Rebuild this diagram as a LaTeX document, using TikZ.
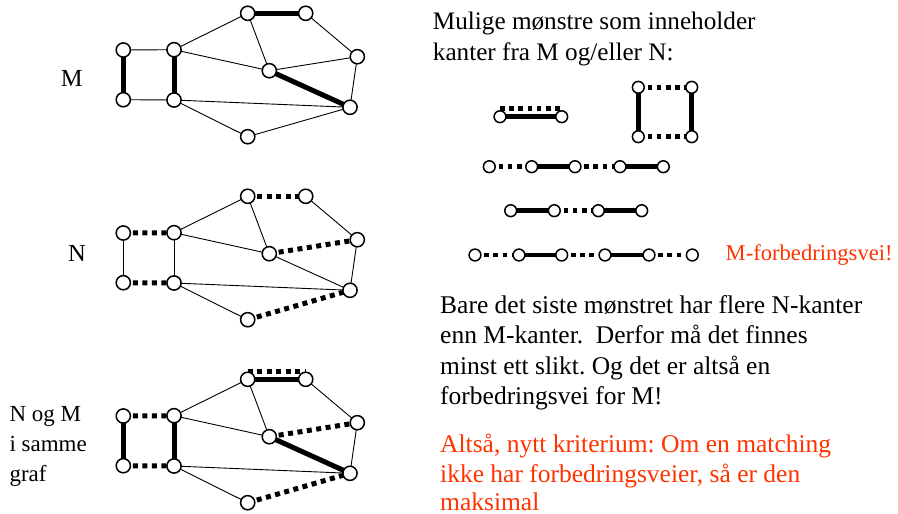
\documentclass[tikz,border=0pt]{standalone}
\usepackage{fontspec}
\setmainfont{Liberation Serif}
\usetikzlibrary{backgrounds}
\definecolor{alertred}{RGB}{255,51,0}

% the ten vertices of the example graph
\newcommand\graphverts{%
  \node[vtx] (a1) at (123.3,50)    {};
  \node[vtx] (a2) at (123.3,99.7)  {};
  \node[vtx] (b1) at (174,49.7)    {};
  \node[vtx] (b2) at (174,100)     {};
  \node[vtx] (c)  at (247.7,13.3)  {};
  \node[vtx] (d)  at (305.7,13.3)  {};
  \node[vtx] (e)  at (269.3,70.7)  {};
  \node[vtx] (f)  at (357.3,56.7)  {};
  \node[vtx] (g)  at (350,107.3)   {};
  \node[vtx] (h)  at (247.7,136.7) {};
}
% edges that belong to neither matching in all three copies
\newcommand\commonedges{%
  \draw[plain] (b1.center) -- (c.center);
  \draw[plain] (b1.center) -- (e.center);
  \draw[plain] (c.center)  -- (e.center);
  \draw[plain] (d.center)  -- (f.center);
  \draw[plain] (f.center)  -- (g.center);
  \draw[plain] (b2.center) -- (g.center);
  \draw[plain] (b2.center) -- (h.center);
}

\begin{document}
\frenchspacing
\begin{tikzpicture}[x=1pt,y=-1pt,
  vtx/.style={circle,draw,fill=white,line width=1.5pt,minimum size=14.2pt,inner sep=0pt},
  pv/.style={circle,draw,fill=white,line width=1.5pt,minimum size=11.8pt,inner sep=0pt},
  plain/.style={line width=0.9pt},
  medge/.style={line width=5pt},
  nedge/.style={line width=5pt,dash pattern=on 5pt off 4.5pt},
  pm/.style={line width=4.6pt},
  pn/.style={line width=4.6pt,dash pattern=on 4.6pt off 4.6pt},
  raised/.style={transform canvas={yshift=8pt}},
  txt/.style={inner sep=0pt,anchor=base west},
  head/.style={txt,font=\fontsize{25.2}{30}\selectfont},
  body/.style={txt,font=\fontsize{25.5}{30}\selectfont},
  side/.style={txt,font=\fontsize{23}{30}\selectfont},
  lbl/.style={inner sep=0pt,font=\fontsize{24.5}{30}\selectfont},
]
\useasboundingbox (0,0) rectangle (898,514);

% ---------- graph with matching M ----------
\begin{scope}[name prefix=m-]
  \graphverts
  \begin{scope}[on background layer]
    \commonedges
    \draw[plain] (a1.center) -- (b1.center);
    \draw[plain] (a2.center) -- (b2.center);
    \draw[plain] (e.center)  -- (f.center);
    \draw[plain] (h.center)  -- (g.center);
    \draw[medge] (a1.center) -- (a2.center);
    \draw[medge] (b1.center) -- (b2.center);
    \draw[medge] (c.center)  -- (d.center);
    \draw[medge] (e.center)  -- (g.center);
  \end{scope}
\end{scope}
\node[lbl] (labM) at (71.8,78.3) {M};

% ---------- graph with matching N ----------
\begin{scope}[name prefix=n-,shift={(0,183)}]
  \graphverts
  \begin{scope}[on background layer]
    \commonedges
    \draw[plain] (a1.center) -- (a2.center);
    \draw[plain] (b1.center) -- (b2.center);
    \draw[plain] (e.center)  -- (g.center);
    \draw[nedge] (a1.center) -- (b1.center);
    \draw[nedge] (a2.center) -- (b2.center);
    \draw[nedge] (c.center)  -- (d.center);
    \draw[nedge] (e.center)  -- (f.center);
    \draw[nedge] (h.center)  -- (g.center);
  \end{scope}
\end{scope}
\node[lbl] (labN) at (77,253.7) {N};

% ---------- both matchings in one graph ----------
\begin{scope}[name prefix=mn-,shift={(0,366)}]
  \graphverts
  \begin{scope}[on background layer]
    \commonedges
    \draw[medge] (a1.center) -- (a2.center);
    \draw[medge] (b1.center) -- (b2.center);
    \draw[medge] (c.center)  -- (d.center);
    \draw[medge] (e.center)  -- (g.center);
    \draw[nedge] (a1.center) -- (b1.center);
    \draw[nedge] (a2.center) -- (b2.center);
    \draw[nedge,raised] (c.center) -- (d.center);
    \draw[nedge] (e.center)  -- (f.center);
    \draw[nedge] (h.center)  -- (g.center);
  \end{scope}
\end{scope}
\node[side] (labNM1) at (9.3,421.7) {N og M};
\node[side] (labNM2) at (9.3,451.5) {i samme};
\node[side] (labNM3) at (9.3,481.5) {graf};

% ---------- possible patterns ----------
\node[head] (head1) at (432.7,29.3) {Mulige mønstre som inneholder};
\node[head] (head2) at (432.7,60)   {kanter fra M og/eller N:};

% one edge in both matchings
\node[pv] (p1a) at (500,116.7) {};
\node[pv] (p1b) at (561.7,116.7) {};
% alternating cycle
\node[pv] (q1) at (638.3,87.3)  {};
\node[pv] (q2) at (691.7,87.3)  {};
\node[pv] (q3) at (638.3,136.7) {};
\node[pv] (q4) at (691.7,136.7) {};
% alternating paths
\node[pv] (r1) at (489.3,166.7) {};
\node[pv] (r2) at (531.7,166.7) {};
\node[pv] (r3) at (575,166.7)   {};
\node[pv] (r4) at (620,166.7)   {};
\node[pv] (r5) at (663.3,166.7) {};
\node[pv] (s1) at (510.7,210.7) {};
\node[pv] (s2) at (554.3,210.7) {};
\node[pv] (s3) at (598.3,210.7) {};
\node[pv] (s4) at (641.7,210.7) {};
\node[pv] (t1) at (475,255)   {};
\node[pv] (t2) at (519,255)   {};
\node[pv] (t3) at (561.7,255) {};
\node[pv] (t4) at (605,255)   {};
\node[pv] (t5) at (649,255)   {};
\node[pv] (t6) at (692.3,255) {};

\begin{scope}[on background layer]
  \draw[pm] (p1a.center) -- (p1b.center);
  \draw[pn,raised] (p1a.center) -- (p1b.center);
  \draw[pn] (q1.center) -- (q2.center);
  \draw[pn] (q3.center) -- (q4.center);
  \draw[pm] (q1.center) -- (q3.center);
  \draw[pm] (q2.center) -- (q4.center);
  \draw[pn] (r1.center) -- (r2.center);
  \draw[pm] (r2.center) -- (r3.center);
  \draw[pn] (r3.center) -- (r4.center);
  \draw[pm] (r4.center) -- (r5.center);
  \draw[pm] (s1.center) -- (s2.center);
  \draw[pn] (s2.center) -- (s3.center);
  \draw[pm] (s3.center) -- (s4.center);
  \draw[pn] (t1.center) -- (t2.center);
  \draw[pm] (t2.center) -- (t3.center);
  \draw[pn] (t3.center) -- (t4.center);
  \draw[pm] (t4.center) -- (t5.center);
  \draw[pn] (t5.center) -- (t6.center);
\end{scope}
\node[txt,text=alertred,font=\fontsize{22.6}{27}\selectfont] (aug) at (725.5,260) {M-forbedringsvei!};

% ---------- conclusion ----------
\node[body] (c1) at (440,313.3) {Bare det siste mønstret har flere N-kanter};
\node[body] (c2) at (440,343.6) {enn M-kanter.~ Derfor må det finnes};
\node[body] (c3) at (440,374)   {minst ett slikt. Og det er altså en};
\node[body] (c4) at (440,404.6) {forbedringsvei for M!};
\node[body,text=alertred] (k1) at (440,452.2) {Altså, nytt kriterium: Om en matching};
\node[body,text=alertred] (k2) at (440,482.4) {ikke har forbedringsveier, så er den};
\node[body,text=alertred] (k3) at (440,510.4) {maksimal};
\end{tikzpicture}
\end{document}
